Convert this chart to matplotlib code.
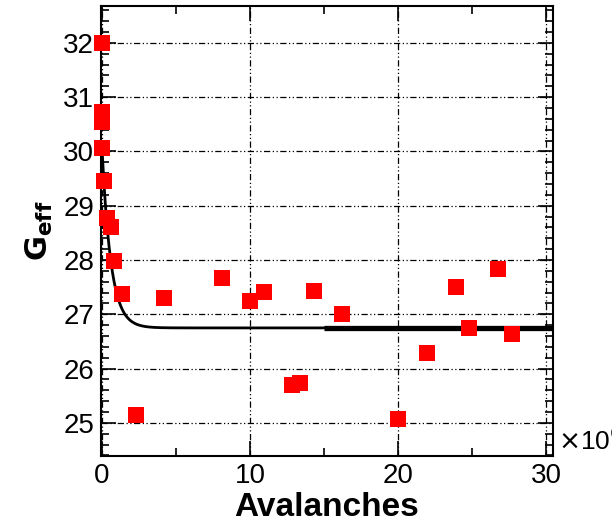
import numpy as np
import matplotlib
matplotlib.use("Agg")
import matplotlib.pyplot as plt
from matplotlib.ticker import MultipleLocator

plt.rcParams['font.family'] = ['Liberation Sans', 'DejaVu Sans']

# Data (x in units of 10^6 avalanches)
avalanches = [0.0, 0.0, 0.0, 0.0, 0.15, 0.35, 0.6, 0.8, 1.35, 2.3, 4.2, 8.1,
              10.0, 10.95, 12.85, 13.4, 14.3, 16.2, 20.0, 21.95, 23.9, 24.8,
              26.75, 27.7]
geff = [32.0, 30.72, 30.55, 30.07, 29.45, 28.78, 28.6, 27.98, 27.37, 25.15,
        27.3, 27.67, 27.25, 27.42, 25.7, 25.73, 27.43, 27.0, 25.08, 26.28,
        27.5, 26.74, 27.83, 26.63]

# Exponential fit parameters
fit_plateau = 26.75
fit_amp = 3.15
fit_tau = 0.6
fit_x0 = 0.05
fit_xmax = 15.0
flat_range = [15.0, 30.45]
flat_level = 26.75

fig = plt.figure(figsize=(6.12, 5.31), dpi=100)
ax = fig.add_axes([0.165, 0.1412, 0.7386, 0.8475])

xf = np.linspace(fit_x0, fit_xmax, 400)
yf = fit_plateau + fit_amp * np.exp(-(xf - fit_x0) / fit_tau)
ax.plot(xf, yf, color='black', lw=2.0, zorder=3)
ax.plot(flat_range, [flat_level, flat_level], color='black', lw=3.8,
        solid_capstyle='butt', zorder=3)

ax.plot(avalanches, geff, 's', color='#ff0000', markersize=11.5,
        markeredgewidth=0, zorder=4, clip_on=False)

ax.set_xlim(-0.05, 30.45)
ax.set_ylim(24.39, 32.68)
ax.xaxis.set_major_locator(MultipleLocator(10))
ax.xaxis.set_minor_locator(MultipleLocator(5))
ax.yaxis.set_major_locator(MultipleLocator(1))
ax.yaxis.set_minor_locator(MultipleLocator(0.2))

tick_family = ['Liberation Sans Narrow', 'Liberation Sans', 'DejaVu Sans']
ax.tick_params(which='both', direction='in', top=True, right=True,
               labelsize=20, width=1.2, pad=5)
ax.tick_params(which='major', length=11)
ax.tick_params(which='minor', length=6)
for lab in ax.get_xticklabels() + ax.get_yticklabels():
    lab.set_family(tick_family)
for s in ax.spines.values():
    s.set_linewidth(1.5)

ax.grid(True, which='major', color='black', lw=0.9,
        linestyle=(0, (5, 2, 1, 2, 1, 2)))
ax.set_axisbelow(True)

ax.set_xlabel('Avalanches', fontsize=24, fontweight='bold', labelpad=2)
ax.set_ylabel(r'$\mathbf{G_{eff}}$', fontsize=22, labelpad=6)
ax.text(1.01, 0.035, r'$\times$10$^6$', transform=ax.transAxes,
        fontsize=19, ha='left', va='center', clip_on=False,
        family=tick_family)

fig.savefig('out.png', dpi=100)
